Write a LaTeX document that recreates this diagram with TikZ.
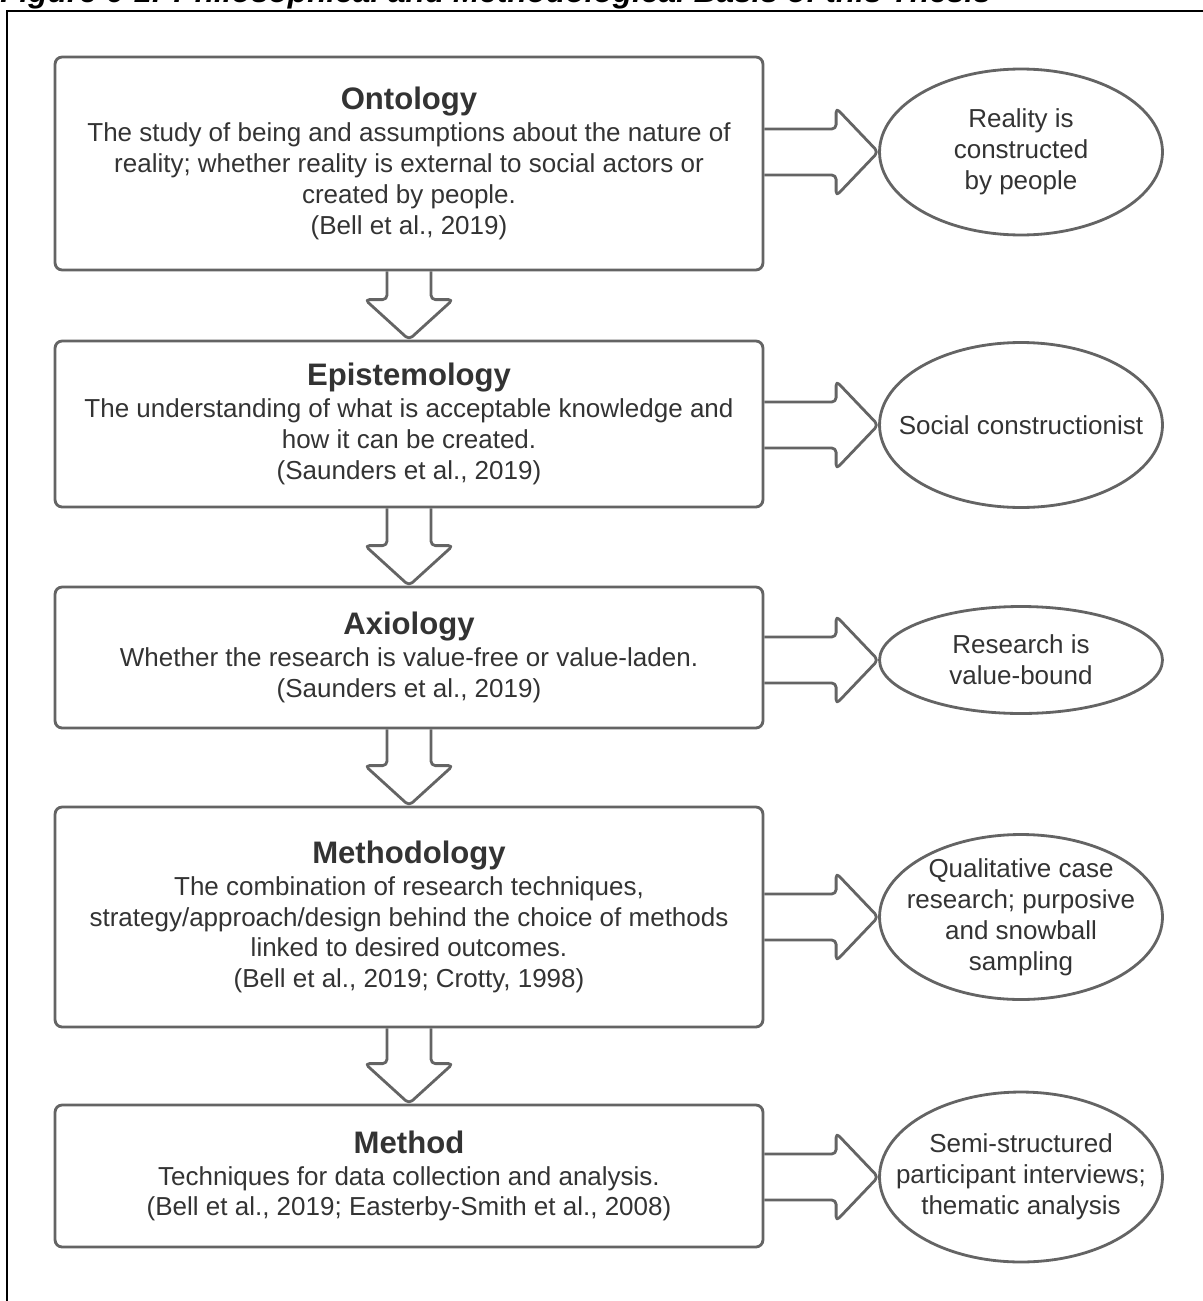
\documentclass[tikz,border=0pt]{standalone}
\usepackage{fontspec}
\setmainfont{Liberation Sans}
\usetikzlibrary{shapes.geometric,calc}

\definecolor{linegray}{HTML}{646464}
\definecolor{textgray}{HTML}{333333}

\tikzset{
  concept/.style={draw=linegray, line width=1.6pt, rounded corners=4pt,
    minimum width=14.16cm, inner sep=0pt, align=center, text=textgray,
    font=\fontsize{14.8}{17.6}\selectfont},
  stance/.style={ellipse, draw=linegray, line width=1.6pt,
    minimum width=5.66cm, inner xsep=-16pt, inner ysep=-8pt, align=center, text=textgray,
    font=\fontsize{14.8}{17.6}\selectfont},
  blockarrow/.style={draw=linegray, line width=1.6pt, rounded corners=2.5pt,
    line join=round}
}
\newcommand{\heading}[1]{{\fontsize{17.7}{19.5}\selectfont\bfseries #1}}
% 向下的空心箭头
\newcommand{\downblock}[2]{%
  \draw[blockarrow] ($(#1.south)+(-22,0)$) -- ($(#2.north)+(-22,-40)$)
    -- ($(#2.north)+(-44,-40)$) -- (#2.north) -- ($(#2.north)+(44,-40)$)
    -- ($(#2.north)+(22,-40)$) -- ($(#1.south)+(22,0)$);}
% 向右的空心箭头
\newcommand{\rightblock}[2]{%
  \draw[blockarrow] ($(#1.east |- #2.west)+(0,-23)$) -- ($(#2.west)+(-42,-23)$)
    -- ($(#2.west)+(-42,-44)$) -- (#2.west) -- ($(#2.west)+(-42,44)$)
    -- ($(#2.west)+(-42,23)$) -- ($(#1.east |- #2.west)+(0,23)$);}

\begin{document}
\begin{tikzpicture}[x=0.02cm, y=-0.02cm]
  \useasboundingbox (0,0) rectangle (1203,1301);
  \clip (0,0) rectangle (1203,1301);

  % 标题与外框
  \node[anchor=base west, inner sep=0pt, font=\fontsize{18}{20}\selectfont\bfseries\itshape] (caption) at (0,3)
    {Figure 6-1: Philosophical and Methodological Basis of this Thesis};
  \draw[line width=1.1pt] (7,1320) -- (7,11) -- (1220,11);

  % 左侧方框
  \node[concept, minimum height=4.26cm] (onto) at (409,163.5) {\heading{Ontology}\\[0.5pt]
    The study of being and assumptions about the nature of\\
    reality; whether reality is external to social actors or\\
    created by people.\\
    (Bell et al., 2019)};
  \node[concept, minimum height=3.32cm] (episte) at (409,424) {\heading{Epistemology}\\[0.5pt]
    The understanding of what is acceptable knowledge and\\
    how it can be created.\\
    (Saunders et al., 2019)};
  \node[concept, minimum height=2.82cm] (axio) at (409,657.5) {\heading{Axiology}\\[0.5pt]
    Whether the research is value-free or value-laden.\\
    (Saunders et al., 2019)};
  \node[concept, minimum height=4.4cm] (methodo) at (409,917) {\heading{Methodology}\\[0.5pt]
    The combination of research techniques,\\
    strategy/approach/design behind the choice of methods\\
    linked to desired outcomes.\\
    (Bell et al., 2019; Crotty, 1998)};
  \node[concept, minimum height=2.84cm] (meth) at (409,1176) {\heading{Method}\\[0.5pt]
    Techniques for data collection and analysis.\\
    (Bell et al., 2019; Easterby-Smith et al., 2008)};

  % 右侧椭圆
  \node[stance, minimum height=3.32cm] (ontoE) at (1021,152) {Reality is\\constructed\\by people};
  \node[stance, minimum height=3.3cm] (episteE) at (1021,425) {Social constructionist};
  \node[stance, minimum height=2.14cm] (axioE) at (1021,660) {Research is\\value-bound};
  \node[stance, minimum height=3.3cm] (methodoE) at (1021,917) {Qualitative case\\research; purposive\\and snowball\\sampling};
  \node[stance, minimum height=3.4cm] (methE) at (1021,1177) {Semi-structured\\participant interviews;\\thematic analysis};

  % 箭头
  \downblock{onto}{episte}
  \downblock{episte}{axio}
  \downblock{axio}{methodo}
  \downblock{methodo}{meth}
  \rightblock{onto}{ontoE}
  \rightblock{episte}{episteE}
  \rightblock{axio}{axioE}
  \rightblock{methodo}{methodoE}
  \rightblock{meth}{methE}
\end{tikzpicture}
\end{document}
